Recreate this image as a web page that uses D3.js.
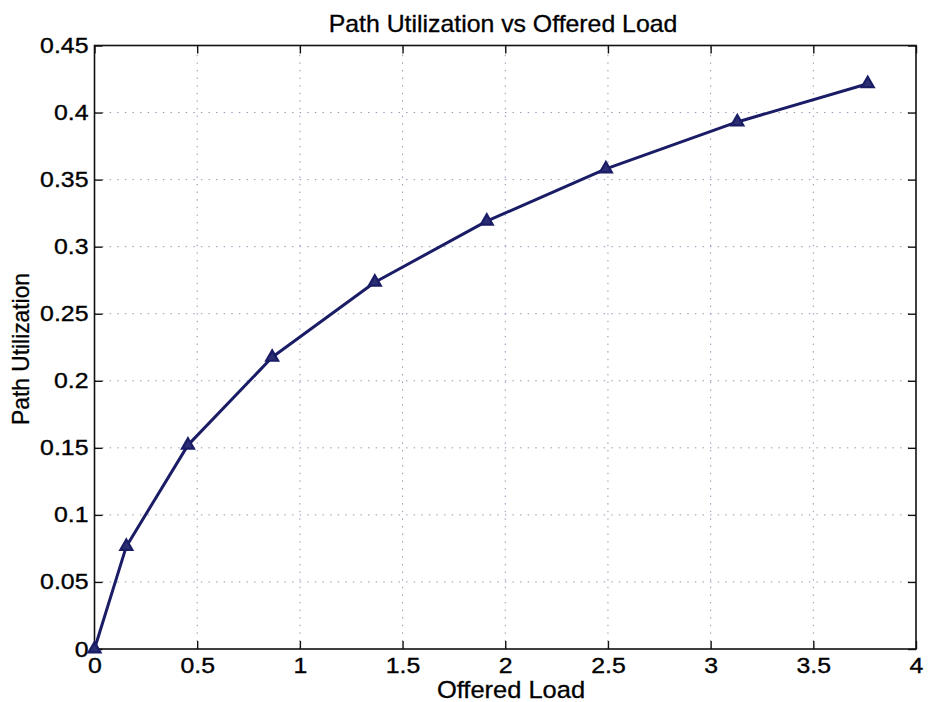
<!DOCTYPE html>
<html>
<head>
<meta charset="utf-8">
<script src="https://cdn.jsdelivr.net/npm/d3@7"></script>
<style>
  html, body { margin: 0; padding: 0; background: #ffffff; }
  svg { display: block; font-family: "Liberation Sans", Arial, Helvetica, sans-serif; }
</style>
</head>
<body>
<svg id="chart" width="928" height="702"></svg>
<script>
// Measured path utilization at each offered load
const offeredLoad = [0, 0.155, 0.455, 0.865, 1.365, 1.91, 2.49, 3.13, 3.765];
const pathUtilization = [0, 0.0765, 0.152, 0.2175, 0.2735, 0.319, 0.358, 0.393, 0.4215];

const xTicks = [0, 0.5, 1, 1.5, 2, 2.5, 3, 3.5, 4];
const yTicks = [0, 0.05, 0.1, 0.15, 0.2, 0.25, 0.3, 0.35, 0.4, 0.45];

const titleText = "Path Utilization vs Offered Load";
const xLabelText = "Offered Load";
const yLabelText = "Path Utilization";

const margin = { left: 94.5, right: 12, top: 45.5, bottom: 53 };
const W = 928, H = 702;
const svg = d3.select("#chart");

const x = d3.scaleLinear().domain([0, 4]).range([margin.left, W - margin.right]);
const y = d3.scaleLinear().domain([0, 0.45]).range([H - margin.bottom, margin.top]);

const x0 = x.range()[0], x1 = x.range()[1];
const y0 = y.range()[0], y1 = y.range()[1];

// dotted grid
const grid = svg.append("g").attr("stroke", "#8e93b4").attr("stroke-width", 1)
  .attr("stroke-dasharray", "1.4,6.2");
grid.selectAll("line.gx").data(xTicks.slice(1, -1)).join("line")
  .attr("x1", d => x(d)).attr("x2", d => x(d)).attr("y1", y0).attr("y2", y1);
grid.selectAll("line.gy").data(yTicks.slice(1, -1)).join("line")
  .attr("y1", d => y(d)).attr("y2", d => y(d)).attr("x1", x0).attr("x2", x1);

// axes: inward ticks on all four sides
const tickLen = 8;
const stretch = 1.13;          // slightly wide lettering
const fmt = d => d3.format("~g")(d);
const axisBottom = d3.axisBottom(x).tickValues(xTicks).tickSizeInner(-tickLen).tickSizeOuter(0).tickPadding(8).tickFormat(fmt);
const axisTop = d3.axisTop(x).tickValues(xTicks).tickSizeInner(-tickLen).tickSizeOuter(0).tickFormat("");
const axisLeft = d3.axisLeft(y).tickValues(yTicks).tickSizeInner(-tickLen).tickSizeOuter(0).tickPadding(6).tickFormat(fmt);
const axisRight = d3.axisRight(y).tickValues(yTicks).tickSizeInner(-tickLen).tickSizeOuter(0).tickFormat("");

function styleAxis(g) {
  g.select(".domain").remove();
  g.selectAll(".tick line").attr("stroke", "#111").attr("stroke-width", 1.4);
  g.selectAll(".tick text").attr("fill", "#000").attr("font-size", 22)
    .attr("stroke", "#000").attr("stroke-width", 0.35)
    .attr("font-family", "'Liberation Sans', Arial, sans-serif");
}
svg.append("g").attr("transform", `translate(0,${y0})`).call(axisBottom).call(styleAxis)
  .selectAll(".tick text").attr("transform", `scale(${stretch},1)`);
svg.append("g").attr("transform", `translate(0,${y1})`).call(axisTop).call(styleAxis);
svg.append("g").attr("transform", `translate(${x0},0)`).call(axisLeft).call(styleAxis)
  .selectAll(".tick text").attr("x", -6 / stretch).attr("transform", `scale(${stretch},1)`);
svg.append("g").attr("transform", `translate(${x1},0)`).call(axisRight).call(styleAxis);

// plot box
svg.append("rect").attr("x", x0).attr("y", y1).attr("width", x1 - x0).attr("height", y0 - y1)
  .attr("fill", "none").attr("stroke", "#111").attr("stroke-width", 1.6);

// data line and triangle markers
const pts = offeredLoad.map((d, i) => [d, pathUtilization[i]]);
const navy = "#1a1c66";
svg.append("path").datum(pts)
  .attr("fill", "none").attr("stroke", navy).attr("stroke-width", 3).attr("stroke-linejoin", "round")
  .attr("d", d3.line().x(d => x(d[0])).y(d => y(d[1])));

const tri = d3.symbol().type(d3.symbolTriangle).size(62);
svg.append("g").selectAll("path").data(pts).join("path")
  .attr("transform", d => `translate(${x(d[0])},${y(d[1])})`)
  .attr("d", tri)
  .attr("fill", "#2c2e74").attr("stroke", navy).attr("stroke-width", 2.2).attr("stroke-linejoin", "miter");

// title and axis labels
function label(tx, ty, rot, size, sx, txt) {
  svg.append("text")
    .attr("transform", `translate(${tx},${ty}) rotate(${rot}) scale(${sx},1)`)
    .attr("text-anchor", "middle").attr("font-size", size)
    .attr("fill", "#000").attr("stroke", "#000").attr("stroke-width", 0.3)
    .text(txt);
}
label(503, 32, 0, 23, 1.08, titleText);
label(511, 698, 0, 24.5, 1.04, xLabelText);
label(29, 349, -90, 23.5, 0.97, yLabelText);
</script>
</body>
</html>
